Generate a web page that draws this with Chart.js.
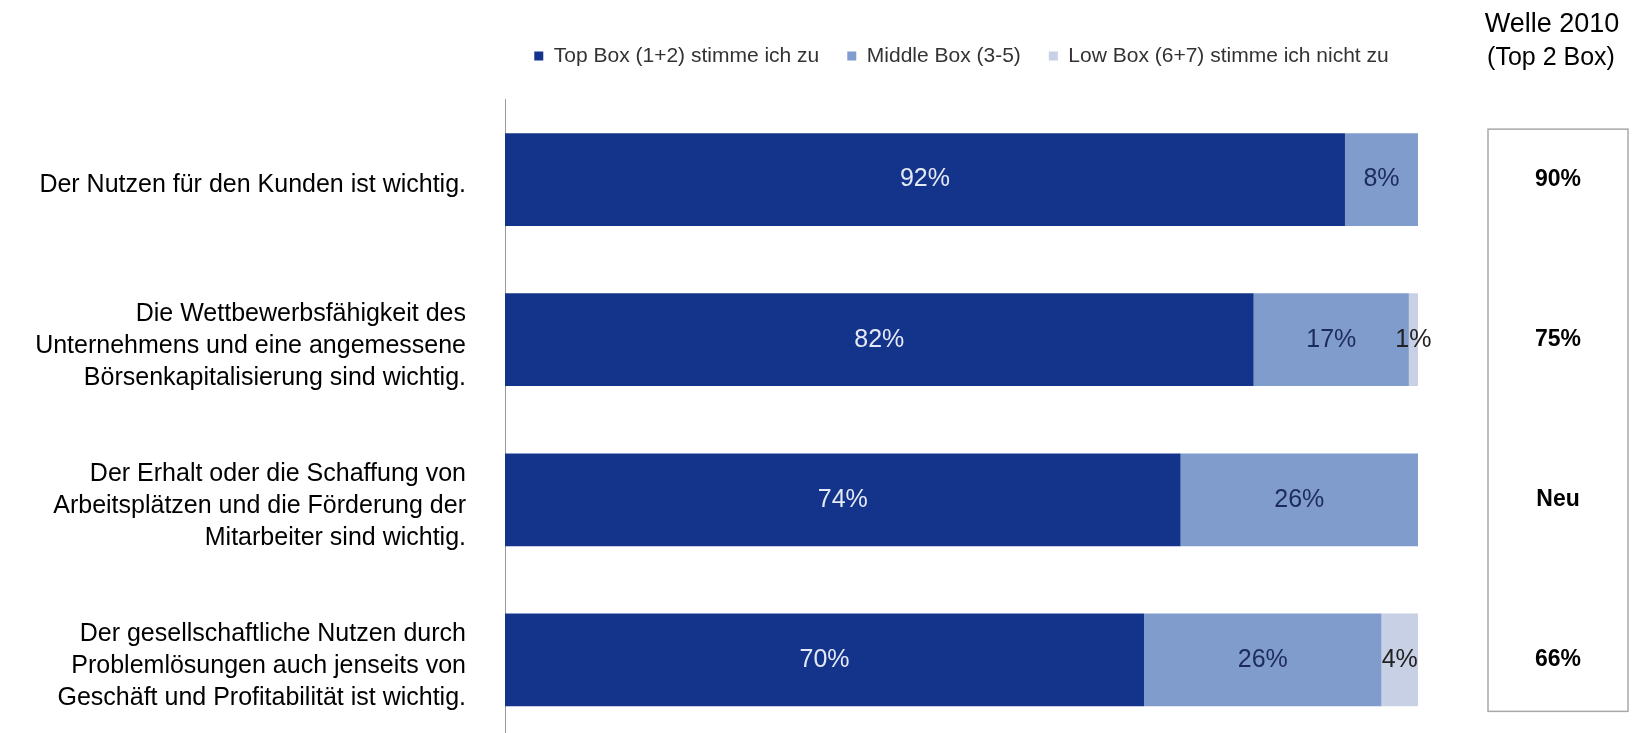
<!DOCTYPE html>
<html>
<head>
<meta charset="utf-8">
<script src="https://cdn.jsdelivr.net/npm/chart.js@4.4.1/dist/chart.umd.min.js"></script>
<style>
  html, body { margin: 0; padding: 0; background: #fff; overflow: hidden; }
  #wrap { width: 1634px; height: 740px; position: relative; }
</style>
</head>
<body>
<div id="wrap"><canvas id="chart"></canvas></div>
<script>
(function () {
    "use strict";

    // Daten
    var categories = [
        ['Der Nutzen für den Kunden ist wichtig.'],
        ['Die Wettbewerbsfähigkeit des', 'Unternehmens und eine angemessene', 'Börsenkapitalisierung sind wichtig.'],
        ['Der Erhalt oder die Schaffung von', 'Arbeitsplätzen und die Förderung der', 'Mitarbeiter sind wichtig.'],
        ['Der gesellschaftliche Nutzen durch', 'Problemlösungen auch jenseits von', 'Geschäft und Profitabilität ist wichtig.']
    ];
    var seriesNames = ['Top Box (1+2) stimme ich zu', 'Middle Box (3-5)', 'Low Box (6+7) stimme ich nicht zu'];
    var topBox = [92, 82, 74, 70];
    var middleBox = [8, 17, 26, 26];
    var lowBox = [0, 1, 0, 4];
    var welleTitle = ['Welle 2010', '(Top 2 Box)'];
    var welle2010 = ['90%', '75%', 'Neu', '66%'];

    var font = 'Liberation Sans, Arial, sans-serif';
    var labelColors = ['#e4e9f6', '#1d2b5c', '#222222'];

    // Prozentwerte in den Balken
    var barLabels = {
        id: 'barLabels',
        afterDatasetsDraw: function (chart) {
            var ctx = chart.ctx;
            ctx.save();
            ctx.font = '25px ' + font;
            ctx.textAlign = 'center';
            ctx.textBaseline = 'middle';
            chart.data.datasets.forEach(function (ds, i) {
                var meta = chart.getDatasetMeta(i);
                ctx.fillStyle = labelColors[i];
                meta.data.forEach(function (bar, j) {
                    var v = ds.data[j];
                    if (!v) return;
                    var p = bar.getProps(['x', 'y', 'base'], true);
                    ctx.fillText(v + '%', (p.x + p.base) / 2, p.y);
                });
            });
            ctx.restore();
        }
    };

    // Kasten rechts: Welle 2010
    var welleBox = {
        id: 'welleBox',
        afterDraw: function (chart) {
            var ctx = chart.ctx;
            var yScale = chart.scales.y;
            var meta = chart.getDatasetMeta(0);
            var first = meta.data[0].getProps(['y', 'height'], true);
            var last = meta.data[meta.data.length - 1].getProps(['y', 'height'], true);
            var left = 1488, right = 1628;
            var top = first.y - first.height / 2 - 4;
            var bottom = last.y + last.height / 2 + 5;
            ctx.save();
            ctx.strokeStyle = '#a8a8a8';
            ctx.lineWidth = 1.5;
            ctx.strokeRect(left, top, right - left, bottom - top);

            ctx.fillStyle = '#000';
            ctx.textAlign = 'center';
            ctx.textBaseline = 'middle';
            ctx.font = '27px ' + font;
            ctx.fillText(welleTitle[0], 1552, 25);
            ctx.font = '25px ' + font;
            ctx.fillText(welleTitle[1], 1551, 58);

            ctx.font = 'bold 23px ' + font;
            welle2010.forEach(function (t, i) {
                ctx.fillText(t, (left + right) / 2, yScale.getPixelForValue(i));
            });
            ctx.restore();
        }
    };

    var ctx = document.getElementById('chart').getContext('2d');
    var myChart = new Chart(ctx, {
        type: 'bar',
        data: {
            labels: categories,
            datasets: [{
                label: seriesNames[0],
                data: topBox,
                backgroundColor: '#14338a'
            }, {
                label: seriesNames[1],
                data: middleBox,
                backgroundColor: '#7f9ccc'
            }, {
                label: seriesNames[2],
                data: lowBox,
                backgroundColor: '#c8d0e6'
            }]
        },
        options: {
            indexAxis: 'y',
            responsive: true,
            maintainAspectRatio: false,
            animation: false,
            layout: {
                padding: { top: 17.5, left: 0, right: 216, bottom: 0 }
            },
            datasets: {
                bar: {
                    categoryPercentage: 1,
                    barPercentage: 0.58,
                    borderWidth: 0
                }
            },
            scales: {
                x: {
                    position: 'top',
                    stacked: true,
                    min: 0,
                    max: 100,
                    grid: { display: false },
                    border: { display: false },
                    ticks: { display: false },
                    afterFit: function (scale) { scale.height = 23; }
                },
                y: {
                    stacked: true,
                    grid: { display: false, drawTicks: false },
                    border: { display: true, color: '#9a9a9a', width: 1, dash: [3, 1] },
                    ticks: {
                        padding: 39,
                        labelOffset: 6,
                        color: '#000',
                        font: { family: font, size: 25, lineHeight: 1.28 }
                    },
                    afterFit: function (scale) {
                        scale.width = 505;
                        scale.paddingTop = 0;
                        scale.paddingBottom = 0;
                    }
                }
            },
            plugins: {
                legend: {
                    position: 'top',
                    fullSize: false,
                    labels: {
                        boxWidth: 9,
                        boxHeight: 9,
                        padding: 28,
                        color: '#333',
                        font: { family: font, size: 21 }
                    }
                },
                tooltip: { enabled: false }
            }
        },
        plugins: [barLabels, welleBox]
    });
})();
</script>
</body>
</html>
